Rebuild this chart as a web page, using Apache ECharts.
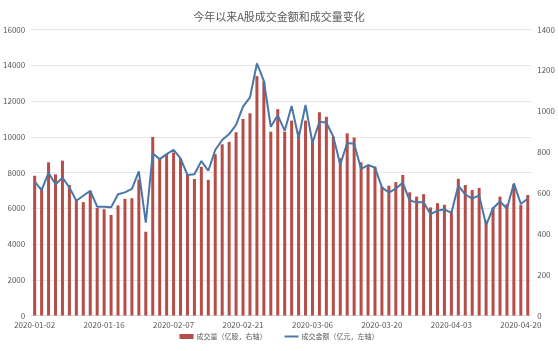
<!DOCTYPE html>
<html>
<head>
<meta charset="utf-8">
<script src="https://cdn.jsdelivr.net/npm/echarts@6/dist/echarts.min.js"></script>
<style>
    html, body { margin: 0; padding: 0; background: #fff; }
    #chart { width: 558px; height: 351px; }
</style>
</head>
<body>
<div id="chart"></div>
<script>
    // 交易日
    const dates = [
        '2020-01-02', '2020-01-03', '2020-01-06', '2020-01-07', '2020-01-08', '2020-01-09', '2020-01-10',
        '2020-01-13', '2020-01-14', '2020-01-15', '2020-01-16', '2020-01-17', '2020-01-20', '2020-01-21',
        '2020-01-22', '2020-01-23', '2020-02-03', '2020-02-04', '2020-02-05', '2020-02-06', '2020-02-07',
        '2020-02-10', '2020-02-11', '2020-02-12', '2020-02-13', '2020-02-14', '2020-02-17', '2020-02-18',
        '2020-02-19', '2020-02-20', '2020-02-21', '2020-02-24', '2020-02-25', '2020-02-26', '2020-02-27',
        '2020-02-28', '2020-03-02', '2020-03-03', '2020-03-04', '2020-03-05', '2020-03-06', '2020-03-09',
        '2020-03-10', '2020-03-11', '2020-03-12', '2020-03-13', '2020-03-16', '2020-03-17', '2020-03-18',
        '2020-03-19', '2020-03-20', '2020-03-23', '2020-03-24', '2020-03-25', '2020-03-26', '2020-03-27',
        '2020-03-30', '2020-03-31', '2020-04-01', '2020-04-02', '2020-04-03', '2020-04-07', '2020-04-08',
        '2020-04-09', '2020-04-10', '2020-04-13', '2020-04-14', '2020-04-15', '2020-04-16', '2020-04-17',
        '2020-04-20', '2020-04-21'
    ];

    // 成交量（亿股，右轴）
    const volume = [
        684, 626, 750, 691, 758, 639, 564, 555, 608, 527, 520, 492, 539, 571, 574, 665,
        410, 874, 767, 790, 798, 769, 690, 668, 728, 664, 790, 838, 850, 897, 962, 990,
        1172, 1146, 900, 1010, 900, 954, 901, 954, 866, 995, 973, 875, 770, 892, 871, 750,
        737, 729, 630, 635, 653, 688, 603, 582, 594, 529, 550, 542, 512, 669, 639, 614,
        624, 464, 529, 582, 545, 643, 543, 590
    ];

    // 成交金额（亿元，左轴）
    const turnover = [
        7490, 7020, 7990, 7340, 7710, 7170, 6420, 6700, 6980, 6090, 6090, 6050, 6780, 6890, 7080, 8060,
        5190, 9060, 8750, 9030, 9260, 8790, 7860, 7900, 8640, 8100, 9260, 9820, 10150, 10660, 11680, 12200,
        14100, 13120, 10560, 11200, 10340, 11720, 9930, 11780, 9650, 10840, 10790, 10000, 8450, 9650, 9610, 8190,
        8420, 8270, 7170, 6880, 7100, 7420, 6430, 6330, 6330, 5670, 5860, 5940, 5740, 7270, 6770, 6540,
        6720, 5060, 6000, 6380, 5980, 7390, 6250, 6530
    ];

    const fontFamily = '"Noto Sans CJK SC", "Noto Sans", sans-serif';

    let myChart = echarts.init(document.getElementById('chart'));
    let option = {
        textStyle: { fontFamily: fontFamily },
        title: {
            text: '今年以来A股成交金额和成交量变化',
            left: 'center',
            top: 6,
            textStyle: {
                color: '#595959',
                fontSize: 11,
                fontWeight: 'normal',
                fontFamily: fontFamily
            }
        },
        legend: {
            bottom: 6,
            left: 'center',
            itemWidth: 14,
            itemHeight: 5,
            itemGap: 18,
            textStyle: { color: '#595959', fontSize: 7, padding: [0, 0, 0, -2] },
            data: [
                { name: '成交量（亿股，右轴）', icon: 'rect' },
                { name: '成交金额（亿元，左轴）', icon: 'path://M0,0h14v2h-14z' }
            ]
        },
        grid: {
            top: 29.5,
            left: 30,
            right: 24,
            bottom: 35.5,
            containLabel: false
        },
        xAxis: {
            type: 'category',
            data: dates,
            boundaryGap: true,
            axisLine: { lineStyle: { color: '#D9D9D9' } },
            axisTick: { show: false },
            axisLabel: {
                interval: 9,
                color: '#595959',
                fontSize: 8,
                margin: 5
            }
        },
        yAxis: [
            {
                type: 'value',
                min: 0,
                max: 16000,
                interval: 2000,
                axisLine: { show: false },
                axisTick: { show: false },
                axisLabel: { color: '#595959', fontSize: 8, margin: 6, formatter: (v) => String(v) },
                splitLine: { lineStyle: { color: '#E6E6E6' } }
            },
            {
                type: 'value',
                min: 0,
                max: 1400,
                interval: 200,
                axisLine: { show: false },
                axisTick: { show: false },
                axisLabel: { color: '#595959', fontSize: 8, margin: 6, formatter: (v) => String(v) },
                splitLine: { show: false }
            }
        ],
        series: [
            {
                name: '成交量（亿股，右轴）',
                type: 'bar',
                yAxisIndex: 1,
                barWidth: 3,
                itemStyle: { color: '#B54D48' },
                data: volume
            },
            {
                name: '成交金额（亿元，左轴）',
                type: 'line',
                yAxisIndex: 0,
                symbol: 'none',
                lineStyle: { color: '#4A76A8', width: 2 },
                itemStyle: { color: '#4A76A8' },
                data: turnover
            }
        ]
    };
    myChart.setOption(option);
</script>
</body>
</html>
